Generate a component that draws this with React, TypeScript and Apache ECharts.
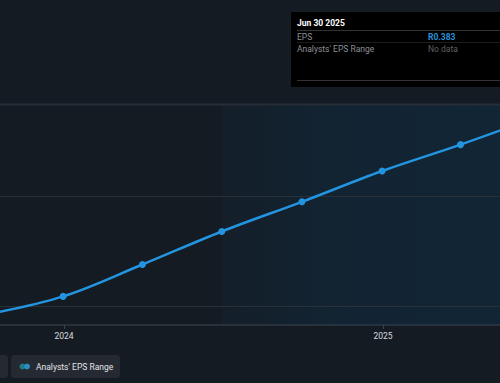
import React, { useEffect, useRef } from "react";
import * as echarts from "echarts";

// Quarter-end reporting dates and EPS values (ZAR)
const periodDates = [
  "2023-09-30",
  "2023-12-31",
  "2024-03-31",
  "2024-06-30",
  "2024-09-30",
  "2024-12-31",
  "2025-03-31",
  "2025-06-30",
];
const epsValues = [0.202, 0.219, 0.248, 0.278, 0.305, 0.333, 0.357, 0.383];

// Year tick labels on the x axis
const yearTicks = ["2024-01-01", "2025-01-01"];
// Horizontal reference grid levels
const gridLevels = [0.213, 0.313];
// Start of the shaded (last twelve months) region
const shadeStart = "2024-06-30";

// Tooltip contents
const tooltipTitle = "Jun 30 2025";
const tooltipRows = [
  { label: "EPS", value: "R0.383" },
  { label: "Analysts' EPS Range", value: "No data" },
];
const legendLabel = "Analysts' EPS Range";

const DAY = 86400000;
const ts = (s: string) => new Date(s + "T00:00:00Z").getTime();

export default function App() {
  const ref = useRef<HTMLDivElement>(null);

  useEffect(() => {
    document.body.style.margin = "0";
    if (!ref.current) return;
    const chart = echarts.init(ref.current, undefined, { renderer: "svg" });

    const pxPerDay = 319 / 366;
    const xMin = ts("2024-01-01") - (64 / pxPerDay) * DAY;
    const xMax = ts("2025-01-01") + (117 / pxPerDay) * DAY;

    const font = "Roboto, 'Noto Sans', sans-serif";
    const bg = "#151b23";

    const option: any = {
      animation: false,
      backgroundColor: bg,
      grid: { left: 0, right: 0, top: 105, bottom: 58, containLabel: false },
      xAxis: {
        type: "value",
        min: xMin,
        max: xMax,
        splitLine: { show: false },
        axisLine: { show: true, lineStyle: { color: "#2a3038", width: 2 } },
        axisTick: {
          show: true,
          customValues: yearTicks.map(ts),
          length: 4,
          lineStyle: { color: "#3a414a", width: 1 },
        },
        axisLabel: {
          customValues: yearTicks.map(ts),
          formatter: (v: number) => String(new Date(v).getUTCFullYear()),
          color: "#d8dbdf",
          fontSize: 8.5,
          fontFamily: font,
          margin: 6,
          showMinLabel: true,
          showMaxLabel: true,
        },
      },
      yAxis: {
        type: "value",
        min: 0.193,
        max: 0.393,
        show: false,
        splitLine: { show: false },
      },
      series: [
        {
          type: "line",
          data: periodDates.map((d, i) => [ts(d), epsValues[i]]),
          smooth: 0.35,
          symbol: "circle",
          symbolSize: 7,
          showSymbol: true,
          clip: true,
          lineStyle: { color: "#2394df", width: 2.5 },
          itemStyle: { color: "#2394df" },
          z: 5,
          markArea: {
            silent: true,
            itemStyle: {
              color: {
                type: "linear",
                x: 0,
                y: 0,
                x2: 1,
                y2: 0,
                colorStops: [
                  { offset: 0, color: "rgba(9,63,99,0.10)" },
                  { offset: 0.45, color: "rgba(9,63,99,0.25)" },
                  { offset: 1, color: "rgba(9,63,99,0.28)" },
                ],
              },
            },
            data: [[{ xAxis: ts(shadeStart) }, { xAxis: xMax }]],
          },
          markLine: {
            silent: true,
            symbol: "none",
            label: { show: false },
            lineStyle: { color: "#2a3038", width: 1, type: "solid" },
            data: gridLevels.map((v) => ({ yAxis: v })),
          },
        },
      ],
      graphic: [
        // top border of plot
        {
          type: "line",
          shape: { x1: 0, y1: 104.5, x2: 500, y2: 104.5 },
          style: { stroke: "#272d36", lineWidth: 2 },
          z: 10,
        },
        // tooltip box
        {
          type: "group",
          z: 100,
          children: [
            {
              type: "rect",
              shape: { x: 291, y: 12, width: 212, height: 75 },
              style: { fill: "#000000" },
            },
            {
              type: "text",
              style: {
                x: 297,
                y: 23,
                text: tooltipTitle,
                fill: "#ffffff",
                fontSize: 8.5,
                fontWeight: "bold",
                fontFamily: font,
                verticalAlign: "middle",
              },
            },
            {
              type: "line",
              shape: { x1: 297, y1: 30.5, x2: 500, y2: 30.5 },
              style: { stroke: "#333333", lineWidth: 1 },
            },
            {
              type: "line",
              shape: { x1: 297, y1: 42.5, x2: 500, y2: 42.5 },
              style: { stroke: "#1c1c1c", lineWidth: 1 },
            },
            {
              type: "line",
              shape: { x1: 297, y1: 80.5, x2: 500, y2: 80.5 },
              style: { stroke: "#333333", lineWidth: 1 },
            },
            ...tooltipRows.flatMap((r, i) => [
              {
                type: "text",
                style: {
                  x: 297,
                  y: 37 + i * 12,
                  text: r.label,
                  fill: "#8c9096",
                  fontSize: 8.5,
                  fontFamily: font,
                  verticalAlign: "middle",
                },
              },
              {
                type: "text",
                style: {
                  x: 428,
                  y: 37 + i * 12,
                  text: r.value,
                  fill: i === 0 ? "#2b8fd8" : "#5d6166",
                  fontSize: 8.5,
                  fontWeight: i === 0 ? "bold" : "normal",
                  fontFamily: font,
                  verticalAlign: "middle",
                },
              },
            ]),
          ],
        },
        // legend
        {
          type: "group",
          z: 100,
          children: [
            {
              type: "rect",
              shape: { x: -30, y: 355, width: 38, height: 23, r: 4 },
              style: { fill: "#252a32" },
            },
            {
              type: "rect",
              shape: { x: 11, y: 355, width: 109, height: 23, r: 4 },
              style: { fill: "#252a32" },
            },
            {
              type: "circle",
              shape: { cx: 22.5, cy: 366.5, r: 3 },
              style: { fill: "#1d7c84" },
            },
            {
              type: "circle",
              shape: { cx: 27, cy: 366.5, r: 3 },
              style: { fill: "#2b8cc4" },
            },
            {
              type: "text",
              style: {
                x: 36,
                y: 366.5,
                text: legendLabel,
                fill: "#e2e4e7",
                fontSize: 8.5,
                fontFamily: font,
                verticalAlign: "middle",
              },
            },
          ],
        },
      ],
    };

    chart.setOption(option);
    return () => chart.dispose();
  }, []);

  return (
    <div
      ref={ref}
      style={{ width: 500, height: 383, background: "#151b23" }}
    />
  );
}
